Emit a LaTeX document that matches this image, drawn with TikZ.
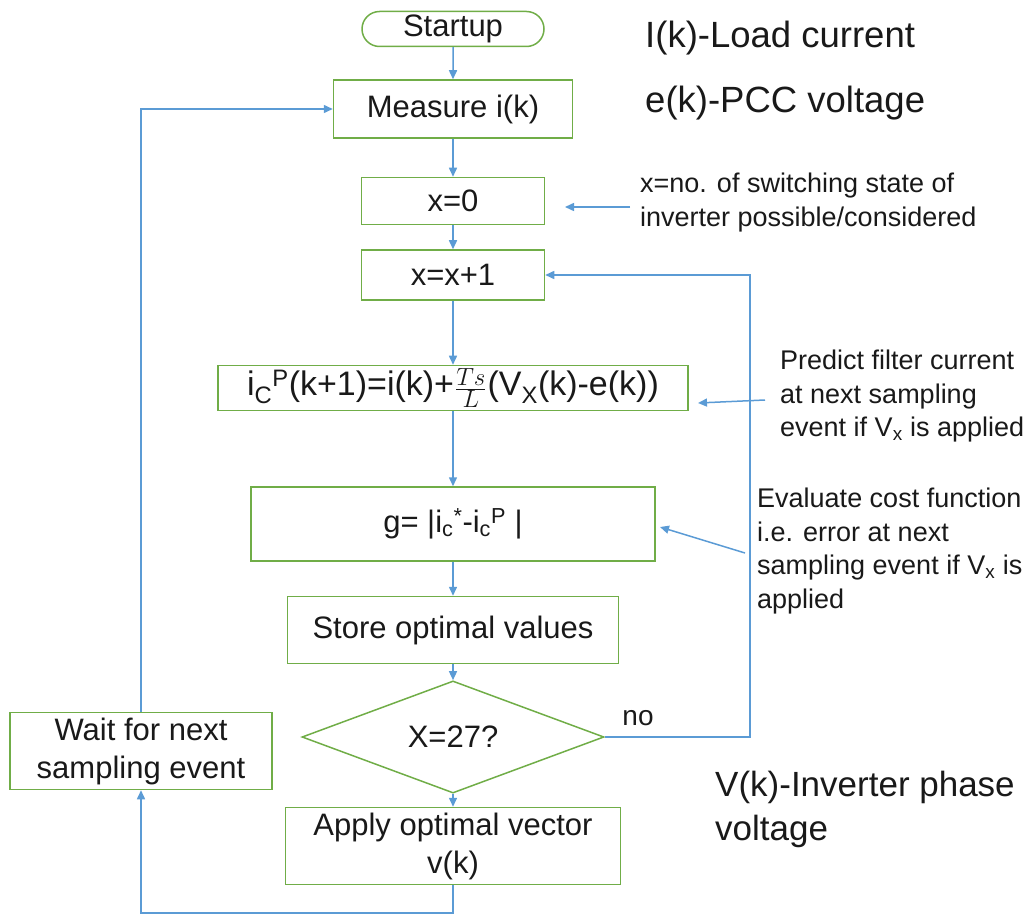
\documentclass[tikz,border=0pt]{standalone}
\usepackage{fontspec}
\setmainfont{Liberation Sans}
\usetikzlibrary{arrows.meta,shapes.geometric,shapes.misc}
\definecolor{boxgreen}{RGB}{112,173,71}
\definecolor{arrowblue}{RGB}{91,155,213}
\definecolor{txt}{RGB}{25,25,25}
\begin{document}
\begin{tikzpicture}[x=1pt,y=-1pt,
  box/.style={draw=boxgreen,line width=1.5pt,inner sep=0pt,align=center,text=txt,font=\fontsize{31}{35}\selectfont},
  conn/.style={draw=arrowblue,line width=1.5pt,-{Triangle[length=9pt,width=8pt]}},
  note/.style={text=txt,align=left,font=\fontsize{27}{33.5}\selectfont,anchor=north west,inner sep=0pt},
  big/.style={text=txt,align=left,font=\fontsize{36.5}{44}\selectfont,anchor=west,inner sep=0pt}]
\useasboundingbox (0,0) rectangle (1031,917);
\node[box,rounded rectangle,minimum width=182pt,minimum height=35pt] (start) at (453,29) {Startup};
\node[box,minimum width=239pt,minimum height=58pt] (meas) at (453,109) {Measure i(k)};
\node[box,minimum width=183pt,minimum height=47pt] (x0) at (453,201) {x=0};
\node[box,minimum width=183pt,minimum height=50pt] (xinc) at (453,275) {x=x+1};
\node[box,minimum width=470pt,minimum height=45pt,font=\fontsize{34}{38}\selectfont] (pred) at (453,388) {i\textsubscript{C}\textsuperscript{P}(k+1)=i(k)+\kern1pt$\frac{Ts}{L}$\kern1pt(V\textsubscript{X}(k)-e(k))};
\node[box,minimum width=404pt,minimum height=74pt] (g) at (453,524) {g= |i\textsubscript{c}\textsuperscript{*}-i\textsubscript{c}\textsuperscript{P} |};
\node[box,minimum width=331pt,minimum height=67pt] (store) at (453,630) {Store optimal values};
\node[box,diamond,minimum width=302pt,minimum height=65pt] (dec) at (453,737) {X=27?};
\node[box,minimum width=262pt,minimum height=77pt,font=\fontsize{31}{38}\selectfont] (wait) at (141,751) {Wait for next\\sampling event};
\node[box,minimum width=335pt,minimum height=77pt,font=\fontsize{31}{38}\selectfont] (apply) at (453,846) {Apply optimal vector\\v(k)};

\node[big] (lk) at (645,38) {I(k)-Load current};
\node[big] (ek) at (645,103) {e(k)-PCC voltage};
\node[big,anchor=north west,font=\fontsize{35}{44}\selectfont] (vk) at (715,771) {V(k)-Inverter phase\\voltage};

\node[note] (n1) at (640,173) {x=no. of switching state of\\inverter possible/considered};
\node[note] (n2) at (780,350) {Predict filter current\\at next sampling\\event if V\textsubscript{x} is applied};
\node[note] (n3) at (757,488) {Evaluate cost function\\i.e. error at next\\sampling event if V\textsubscript{x} is\\applied};
\node[text=txt,font=\fontsize{28}{32}\selectfont,inner sep=0pt] (no) at (638,718) {no};

\coordinate (a1s) at (630,207);
\coordinate (a1e) at (565,207);
\coordinate (a2s) at (765,400);
\coordinate (a2e) at (698,403);
\coordinate (a3s) at (745,553);
\coordinate (a3e) at (660,527);
\coordinate (rloop) at (750,737);
\coordinate (bloop) at (453,913);

\draw[conn] (start) -- (meas);
\draw[conn] (meas) -- (x0);
\draw[conn] (x0) -- (xinc);
\draw[conn] (xinc) -- (pred);
\draw[conn] (pred) -- (g);
\draw[conn] (g) -- (store);
\draw[conn] (store.south) -- (dec.north);
\draw[conn] (dec.south) -- (apply.north);
\draw[conn] (apply.south) -- (bloop) -| (wait.south);
\draw[conn] (wait.north) |- (meas.west);
\draw[conn] (dec.east) -- (rloop) |- (xinc.east);
\draw[conn] (a1s) -- (a1e);
\draw[conn] (a2s) -- (a2e);
\draw[conn] (a3s) -- (a3e);
\end{tikzpicture}
\end{document}
